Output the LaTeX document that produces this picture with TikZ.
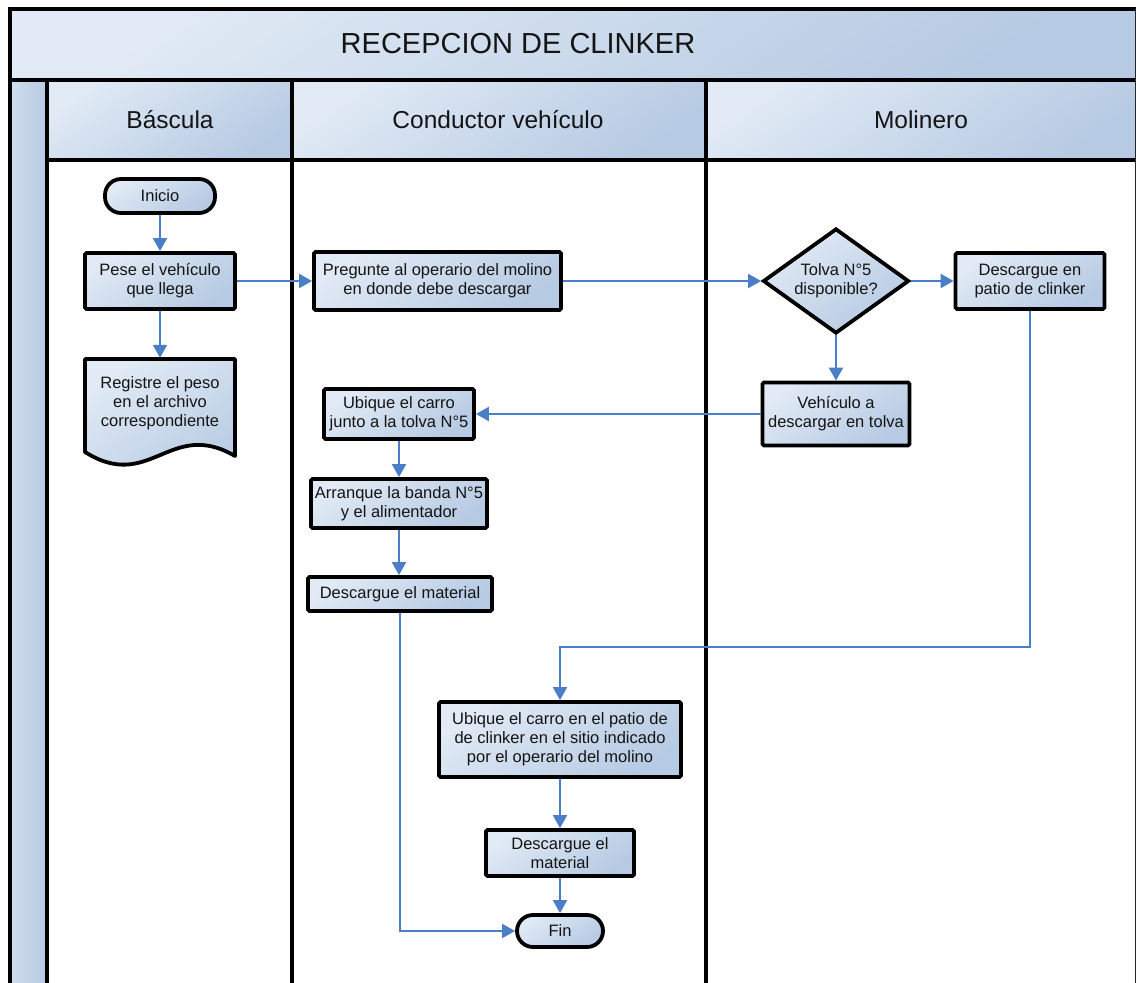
\documentclass[tikz,border=0pt]{standalone}
\usepackage{fontspec}
\setmainfont{Liberation Sans}
\usetikzlibrary{shapes.geometric,arrows.meta,shadows}
\definecolor{gl}{HTML}{E1EAF5}
\definecolor{gd}{HTML}{B6CAE3}
\definecolor{fl}{HTML}{4A7EC7}
\definecolor{tx}{HTML}{141414}
\begin{document}
\begin{tikzpicture}[x=1pt,y=-1pt,
  grad/.style={top color=gl,bottom color=gd,shading angle=35},
  shad/.style={drop shadow={shadow xshift=1.2pt,shadow yshift=-1.2pt,opacity=.3}},
  box/.style={draw=black,line width=3.8pt,rounded corners=1.5pt,grad,shad,align=center,
    text=tx,font=\fontsize{16.5}{19}\selectfont,inner sep=1pt},
  term/.style={box,rounded corners=16pt},
  dec/.style={box,diamond,rounded corners=0pt,aspect=1.4,inner sep=0pt},
  doctext/.style={align=center,text=tx,font=\fontsize{16.5}{19}\selectfont,inner sep=0pt},
  frame/.style={draw=black,line width=4pt},
  hdr/.style={text=tx,font=\fontsize{24.5}{27}\selectfont,inner sep=0pt},
  flow/.style={draw=fl,line width=2pt,-{Triangle[length=13pt,width=14pt]}},
]
\clip (0,0) rectangle (1136,983);
% ---- backgrounds
\path[grad] (10,9) rectangle (1136,80);
\path[left color=gl!60!gd,right color=gd] (10,80) rectangle (47,990);
\path[grad] (47,80) rectangle (292,160);
\path[grad] (292,80) rectangle (706,160);
\path[grad] (706,80) rectangle (1136,160);
% ---- frame lines
\draw[frame] (10,990) -- (10,9) -- (1140,9);
\draw[frame] (10,80) -- (1140,80);
\draw[frame] (47,160) -- (1140,160);
\draw[frame] (47,80) -- (47,990);
\draw[frame] (292,80) -- (292,990);
\draw[frame] (706,80) -- (706,990);
\draw[draw=black!85,line width=1.2pt] (1135.4,9) -- (1135.4,990);
% ---- titles
\node[text=tx,font=\fontsize{29}{33}\selectfont,inner sep=0pt] (title) at (518,44) {RECEPCION DE CLINKER};
\node[hdr] (h1) at (170,120) {Báscula};
\node[hdr] (h2) at (498,120) {Conductor vehículo};
\node[hdr] (h3) at (921,120) {Molinero};
% ---- document shape
\draw[line width=3.8pt,grad,shad,line join=round]
  (85,452) -- (85,359) -- (235,359) -- (235,456)
  .. controls (170,418) and (150,493) .. (85,452) -- cycle;
% ---- nodes
\node[term,minimum width=110pt,minimum height=34pt] (ini) at (160,196) {Inicio};
\node[box,minimum width=150pt,minimum height=56pt] (pese) at (160,281) {Pese el vehículo\\que llega};
\node[doctext,minimum width=150pt,minimum height=90pt] (reg) at (160,403) {Registre el peso\\en el archivo\\correspondiente};
\node[box,minimum width=247pt,minimum height=58pt] (preg) at (437.5,281) {Pregunte al operario del molino\\en donde debe descargar};
\node[dec,minimum width=146pt,minimum height=105pt] (dia) at (836,281) {Tolva N°5\\disponible?};
\node[box,minimum width=149pt,minimum height=56pt] (pat) at (1030,281) {Descargue en\\patio de clinker};
\node[box,minimum width=147pt,minimum height=63pt] (veh) at (836,414) {Vehículo a\\descargar en tolva};
\node[box,minimum width=150pt,minimum height=50pt] (ubj) at (399,414) {Ubique el carro\\junto a la tolva N°5};
\node[box,minimum width=176pt,minimum height=49pt] (arr) at (399,503.5) {Arranque la banda N°5\\y el alimentador};
\node[box,minimum width=184pt,minimum height=34pt] (dm1) at (400,594) {Descargue el material};
\node[box,minimum width=242pt,minimum height=75pt] (ubp) at (560,739.5) {Ubique el carro en el patio de\\de clinker en el sitio indicado\\por el operario del molino};
\node[box,minimum width=148pt,minimum height=46pt] (dm2) at (560,853) {Descargue el\\material};
\node[term,minimum width=86pt,minimum height=32pt] (fin) at (560,931) {Fin};
% ---- connectors
\draw[flow] (ini) -- (pese);
\draw[flow] (pese) -- (reg);
\draw[flow] (pese) -- (preg);
\draw[flow] (preg) -- (dia);
\draw[flow] (dia) -- (pat);
\draw[flow] (dia) -- (veh);
\draw[flow] (veh) -- (ubj);
\draw[flow] (ubj) -- (arr);
\draw[flow] (arr.south) -- (arr.south |- dm1.north);
\coordinate (bend) at (1030,647);
\draw[flow] (pat.south) -- (bend) -| (ubp.north);
\draw[flow] (ubp) -- (dm2);
\draw[flow] (dm2) -- (fin);
\draw[flow] (dm1.south) |- (fin.west);
\end{tikzpicture}
\end{document}
